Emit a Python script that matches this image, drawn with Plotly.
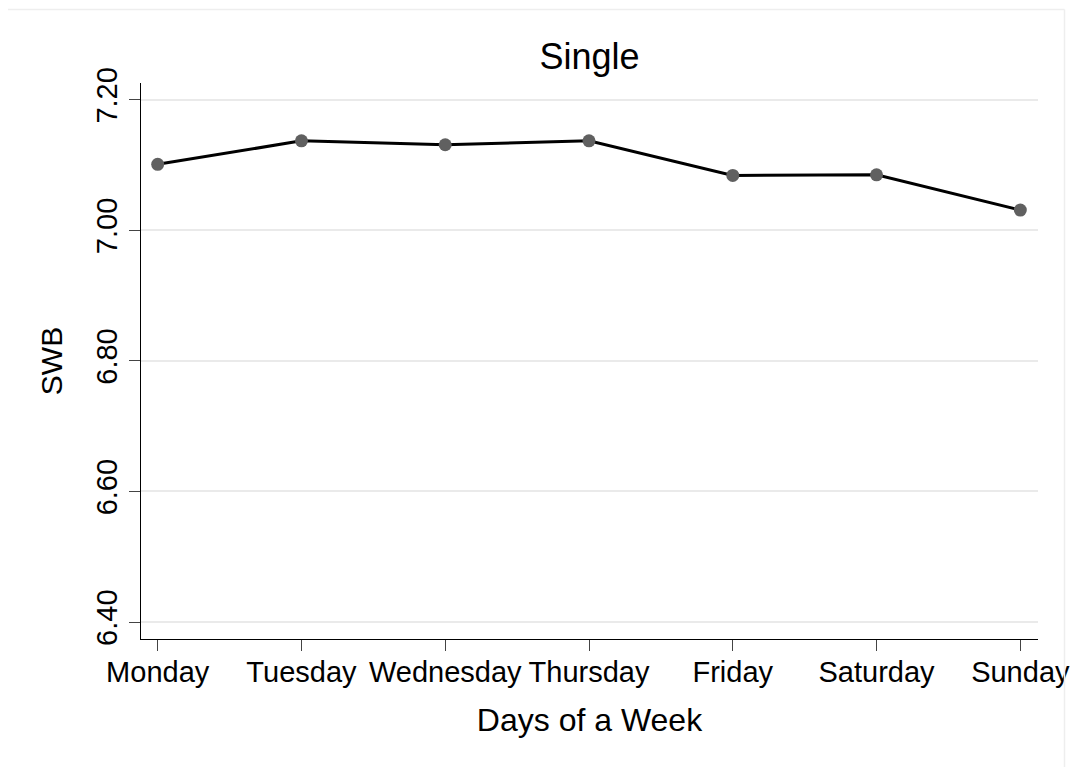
import plotly.graph_objects as go

# Mean subjective well-being (SWB) of single respondents by weekday
days = ["Monday", "Tuesday", "Wednesday", "Thursday", "Friday", "Saturday", "Sunday"]
swb = [7.101, 7.137, 7.131, 7.137, 7.084, 7.085, 7.031]

y_ticks = [6.40, 6.60, 6.80, 7.00, 7.20]

FONT = "Liberation Sans, Arial, Helvetica, sans-serif"

fig = go.Figure()
fig.add_trace(go.Scatter(
    x=days,
    y=swb,
    mode="lines+markers",
    line=dict(color="#000000", width=3),
    marker=dict(color="#606060", size=13),
    showlegend=False,
    hoverinfo="x+y",
))

fig.update_layout(
    width=1076,
    height=767,
    margin=dict(l=141, r=38, t=83, b=128),
    paper_bgcolor="white",
    plot_bgcolor="white",
    font=dict(family=FONT, color="#000000"),
    title=dict(
        text="Single",
        font=dict(family=FONT, size=36, color="#000000"),
        x=589.5 / 1076,
        xref="container",
        xanchor="center",
        y=1 - 69 / 767,
        yref="container",
        yanchor="bottom",
    ),
    xaxis=dict(
        type="category",
        range=[-0.116, 6.123],
        automargin=False,
        showgrid=False,
        zeroline=False,
        showline=True,
        linecolor="#000000",
        linewidth=1,
        ticks="outside",
        ticklen=11,
        tickwidth=1,
        tickcolor="#444444",
        ticklabelstandoff=-4,
        tickfont=dict(family=FONT, size=29, color="#000000"),
        title=dict(text="Days of a Week", font=dict(family=FONT, size=32, color="#000000"), standoff=21),
    ),
    yaxis=dict(
        range=[6.374, 7.2256],
        automargin=False,
        tickvals=y_ticks,
        tickformat=".2f",
        tickangle=-90,
        showgrid=True,
        gridcolor="#EAEAEA",
        gridwidth=2,
        zeroline=False,
        showline=True,
        linecolor="#000000",
        linewidth=1,
        ticks="outside",
        ticklen=11,
        tickwidth=1,
        tickcolor="#444444",
        tickfont=dict(family=FONT, size=29, color="#000000"),
        title=dict(text="SWB", font=dict(family=FONT, size=30, color="#000000"), standoff=19),
    ),
)

# Light outer frame of the graph region (top and right edges)
fig.add_shape(type="line", xref="paper", yref="paper",
              x0=(8 - 141) / 897, x1=(1064.5 - 141) / 897,
              y0=1 + (83 - 9.5) / 556, y1=1 + (83 - 9.5) / 556,
              line=dict(color="#EEEEEE", width=1.5))
fig.add_shape(type="line", xref="paper", yref="paper",
              x0=(1064.5 - 141) / 897, x1=(1064.5 - 141) / 897,
              y0=1 + (83 - 9.5) / 556, y1=-(767 - 639) / 556,
              line=dict(color="#EEEEEE", width=1.5))

fig.write_html("out.html")
